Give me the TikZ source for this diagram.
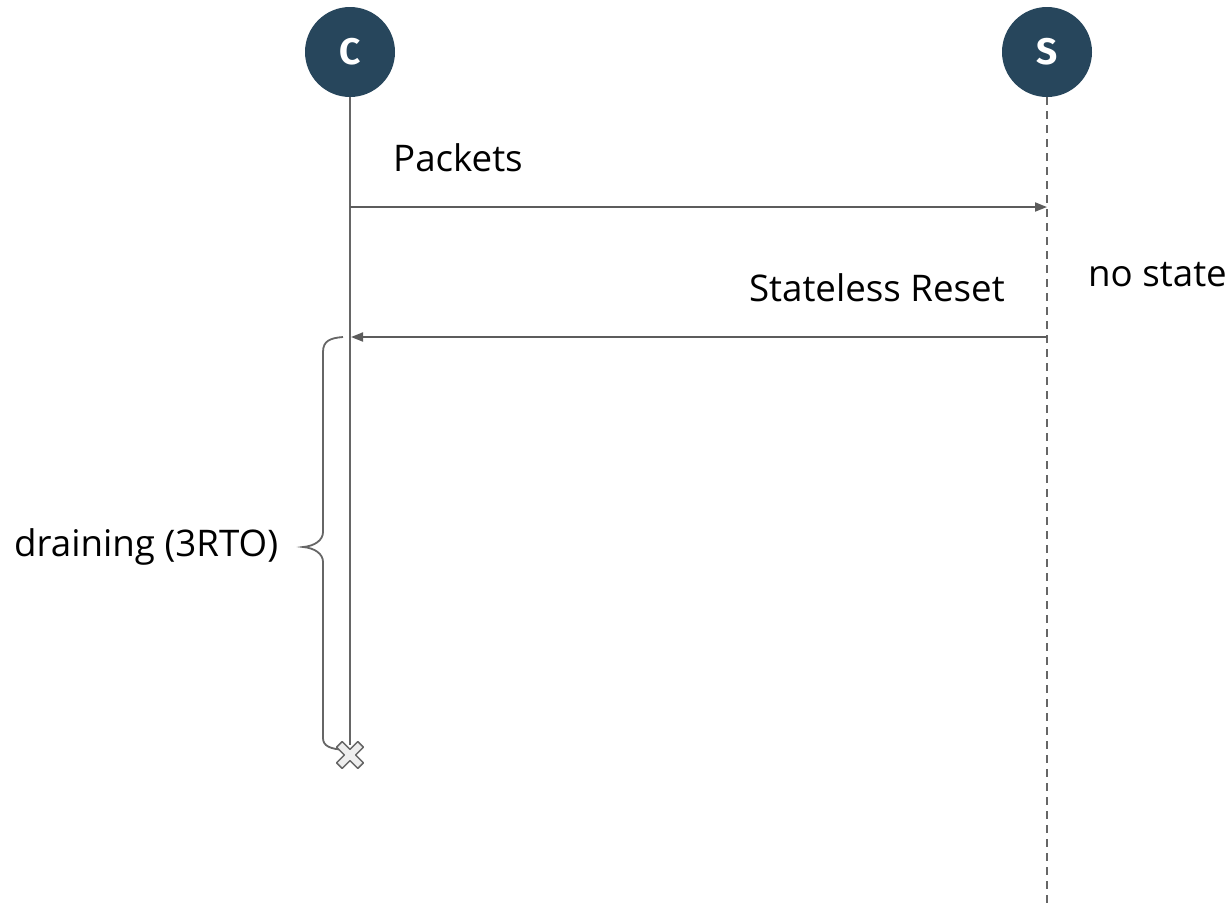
\documentclass[tikz,border=0pt]{standalone}
\usepackage{fontspec}
\setmainfont{Open Sans}
\newfontfamily\letterfont{Fira Sans}
\usetikzlibrary{arrows.meta}
\definecolor{navy}{HTML}{27465C}
\definecolor{ln}{HTML}{666666}
\definecolor{xfill}{HTML}{EEEEEE}
\begin{document}
\begin{tikzpicture}[x=1pt,y=-1pt,
  actor/.style={circle,fill=navy,minimum size=90pt,inner sep=0pt,text=white,font=\letterfont\fontsize{37}{37}\selectfont\bfseries},
  life/.style={draw=ln,line width=1.8pt},
  msg/.style={draw=ln!90!black,line width=1.8pt,-{Triangle[length=12pt,width=9pt]}},
  lbl/.style={font=\fontsize{36.7}{42}\selectfont,text=black,inner sep=0pt}]
\useasboundingbox (0,0) rectangle (1229,903);
\node[actor] (C) at (350,52) {C};
\node[actor] (S) at (1047,52) {S};
\coordinate (Cend) at (350,745);
\coordinate (Send) at (1047,903);
\draw[life] (C.south) -- (Cend);
\draw[life,dash pattern=on 8pt off 6pt] (S.south) -- (Send);
\coordinate (a1) at (350,207);
\coordinate (a2) at (1047,207);
\coordinate (b1) at (1047,337);
\coordinate (b2) at (351,337);
\draw[msg] (a1) -- (a2);
\draw[msg] (b1) -- (b2);
\node[lbl,anchor=base west] (pk) at (393,171) {Packets};
\node[lbl,anchor=base east] (sr) at (1005,301) {Stateless Reset};
\node[lbl,anchor=base west] (ns) at (1088,286) {no state};
\node[lbl,anchor=base west] (dr) at (14,556) {draining (3RTO)};
% brace
\draw[life] (343,337) .. controls (330,338) and (323,341) .. (323,352)
  -- (323,532) .. controls (323,540) and (315,546) .. (303,547)
  .. controls (315,548) and (323,554) .. (323,562)
  -- (323,738) .. controls (323,746) and (330,749) .. (345,750);
% cross
\begin{scope}[shift={(350,755)},rotate=45]
\draw[draw=ln,fill=xfill,line width=1.5pt,line join=round]
  (-4,-15) -- (4,-15) -- (4,-4) -- (15,-4) -- (15,4) -- (4,4) -- (4,15)
  -- (-4,15) -- (-4,4) -- (-15,4) -- (-15,-4) -- (-4,-4) -- cycle;
\end{scope}
\end{tikzpicture}
\end{document}
